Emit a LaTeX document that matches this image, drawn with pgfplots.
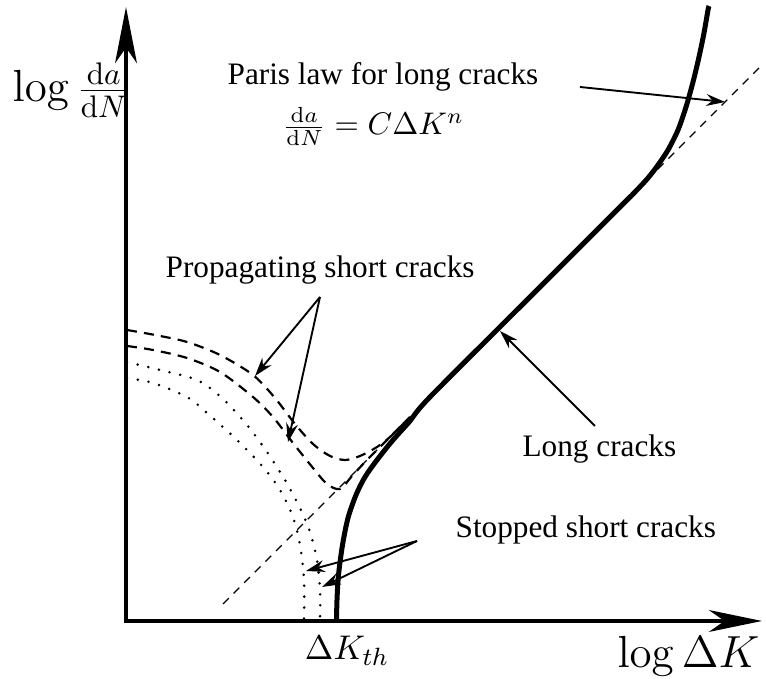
\documentclass[border=0pt]{standalone}
\usepackage[no-math]{fontspec}
\setmainfont{Liberation Serif}
\usepackage{pgfplots}
\pgfplotsset{compat=1.18}
\usetikzlibrary{arrows.meta}
\begin{document}
\begin{tikzpicture}
\begin{axis}[
  scale only axis, width=245.12pt, height=217.28pt,
  xmin=0, xmax=766, ymin=0, ymax=679,
  hide axis, clip=false,
]
\path (axis cs:0,0) rectangle (axis cs:766,679);
% axes
\draw[line width=1pt, {Stealth[length=18pt,width=7pt,inset=5pt]}-{Stealth[length=17pt,width=7pt,inset=5pt]}]
  (axis cs:126,672) -- (axis cs:126,58) -- (axis cs:762,58);
% Paris law line
\addplot[line width=0.35pt, dash pattern=on 2.6pt off 2.2pt] coordinates {(223,75) (760,612)};
% propagating short cracks (dashed)
\addplot[line width=0.7pt, dash pattern=on 3.2pt off 2.3pt, smooth] coordinates {
 (127,349) (155,344) (187,337) (220,324) (253,304) (275,281) (295,255) (313,235) (330,223) (345,219) (360,223) (377,232) (390,242) (405,257)};
\addplot[line width=0.7pt, dash pattern=on 3.2pt off 2.3pt, smooth] coordinates {
 (127,333) (153,329) (187,321) (220,307) (253,282) (273,262) (293,236) (313,211) (327,195) (340,190) (352,203) (366,218) (380,232) (395,247) (410,262)};
% stopped short cracks (dotted)
\addplot[line width=0.9pt, line cap=round, dash pattern=on 0pt off 3.5pt, smooth] coordinates {
 (127,317) (160,309) (197,299) (222,281) (247,254) (267,227) (285,199) (300,171) (310,147) (317,119) (320,89) (320,58)};
\addplot[line width=0.9pt, line cap=round, dash pattern=on 0pt off 3.5pt, smooth] coordinates {
 (127,301) (153,296) (187,282) (207,266) (237,239) (263,212) (280,189) (293,162) (300,134) (304,99) (304,58)};
% long cracks (thick)
\addplot[line width=1.6pt, smooth] coordinates {
 (336.5,58) (337,79) (338.5,104) (342.5,134) (348,161) (356,184) (365,202) (377,219) (393,239) (410,258) (430,282) (530,382) (620,472) (635,487) (648,501) (658,514) (668,529) (678,549) (686,572) (693,597) (699,622) (704,646) (708,669) (709,673)};
% labels
\node[anchor=west, inner sep=0pt] at (axis cs:12,589) {\Large $\log\frac{\mathrm{d}a}{\mathrm{d}N}$};
\node[anchor=base east, inner sep=0pt] at (axis cs:760,11) {\Large $\log\Delta K$};
\node[anchor=base, inner sep=0pt] at (axis cs:347,19) {\fontsize{11}{13}\selectfont $\Delta K_{th}$};
\node[anchor=base west, inner sep=0pt] at (axis cs:227,594) {Paris law for long cracks};
\node[anchor=base west, inner sep=0pt] at (axis cs:282,544) {$\frac{\mathrm{d}a}{\mathrm{d}N}=C\Delta K^n$};
\node[anchor=base west, inner sep=0pt] at (axis cs:165,401) {Propagating short cracks};
\node[anchor=base west, inner sep=0pt] at (axis cs:522,222) {Long cracks};
\node[anchor=base west, inner sep=0pt] at (axis cs:455,141) {Stopped short cracks};
% annotation arrows
\tikzset{ann/.style={line width=0.6pt, -{Stealth[length=6pt,width=3.8pt,inset=2pt]}}}
\draw[ann] (axis cs:580,592) -- (axis cs:725,577);
\draw[ann] (axis cs:320,382) -- (axis cs:255,303);
\draw[ann] (axis cs:320,382) -- (axis cs:288,237);
\draw[ann] (axis cs:595,253) -- (axis cs:500,348);
\draw[ann] (axis cs:417,138) -- (axis cs:306,108);
\draw[ann] (axis cs:417,138) -- (axis cs:322,92);
\end{axis}
\end{tikzpicture}
\end{document}
